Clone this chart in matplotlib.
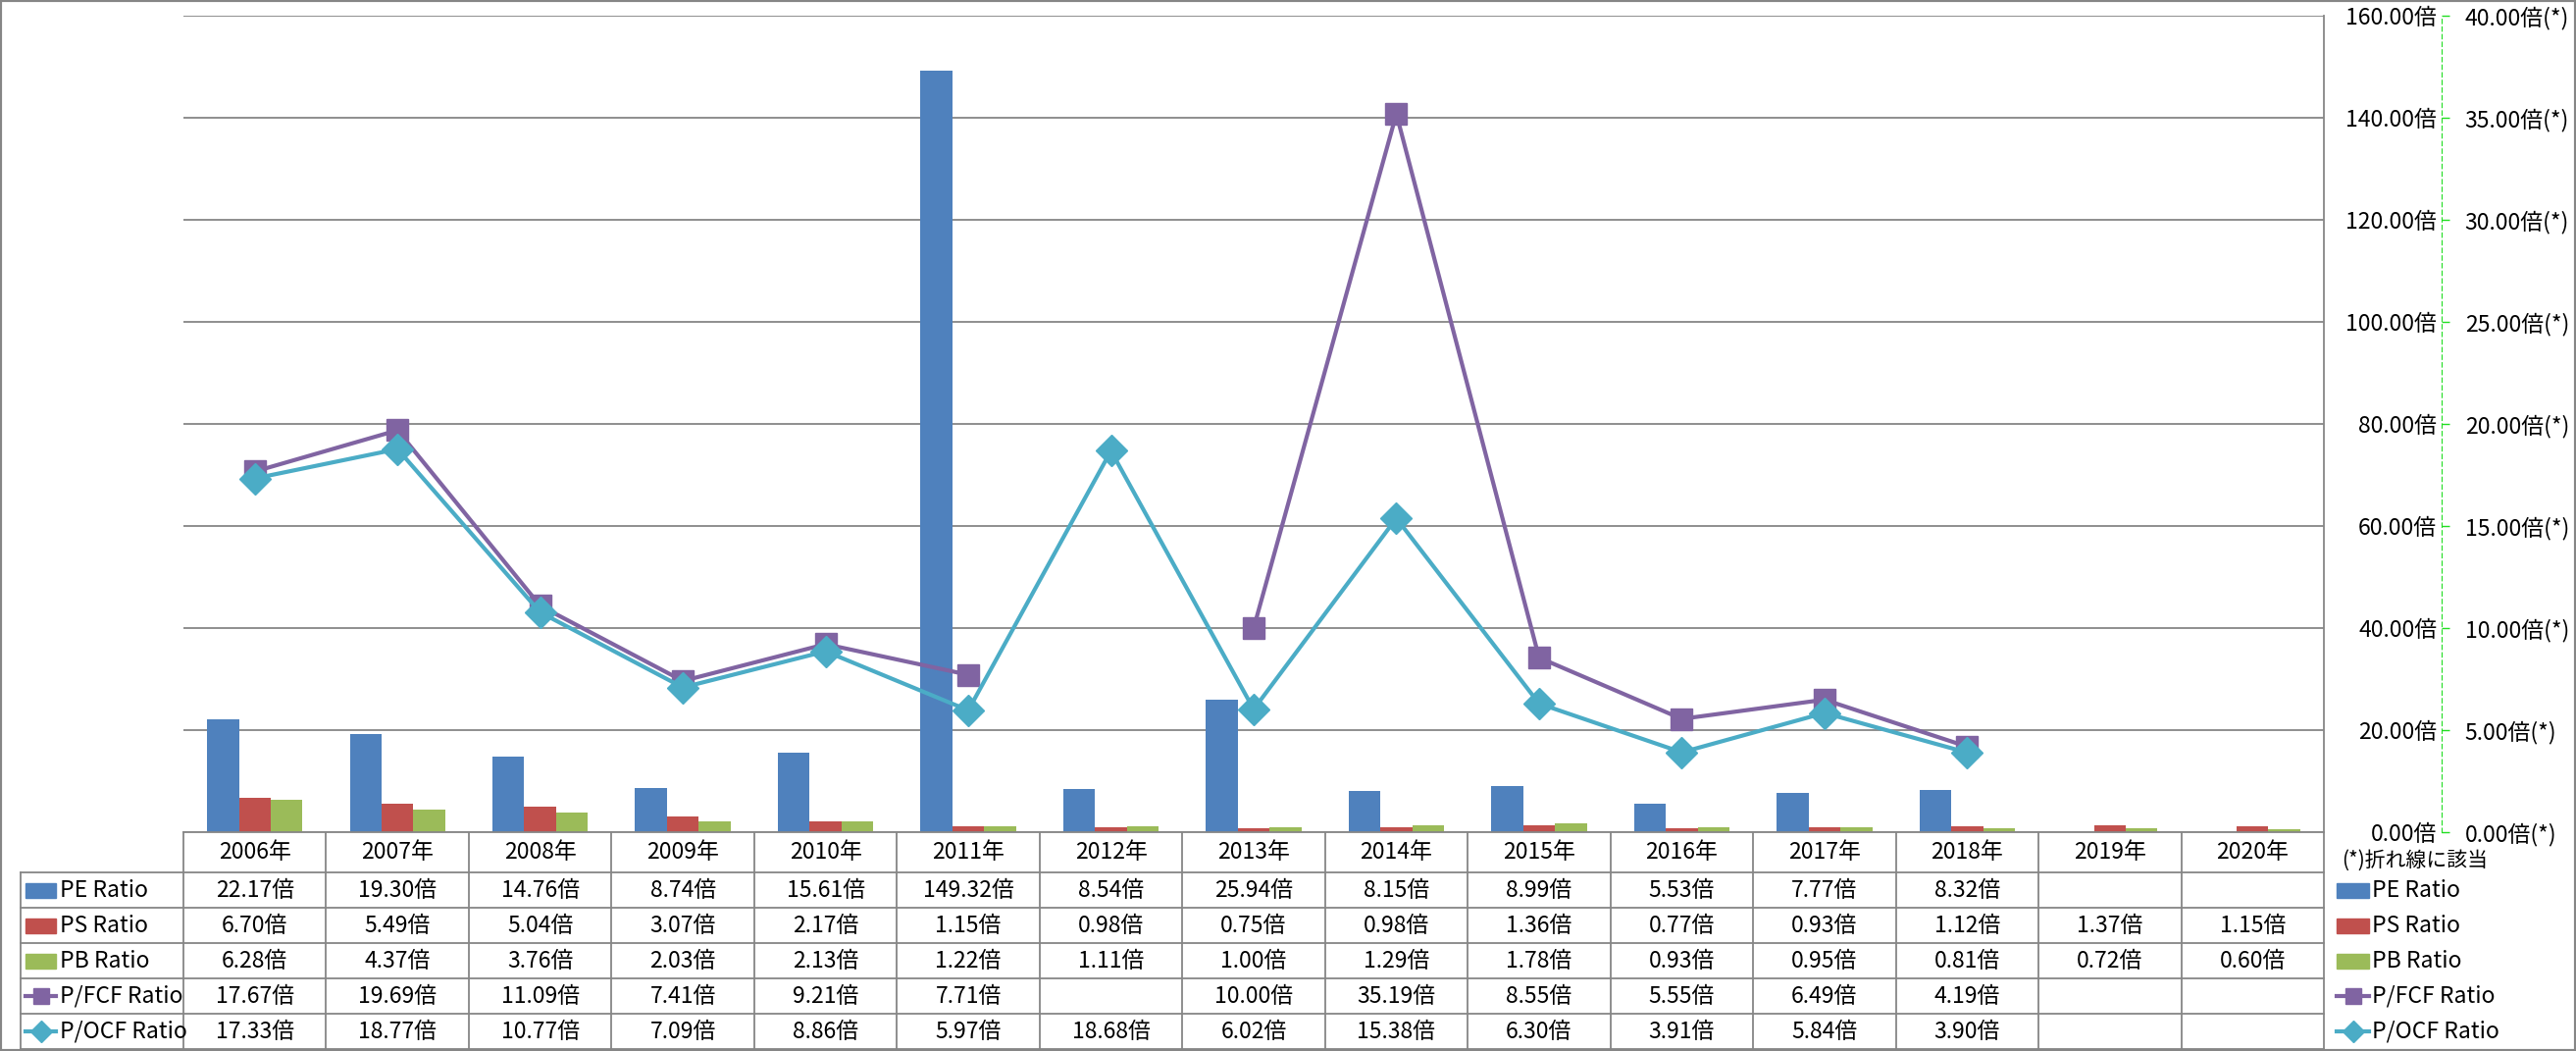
import numpy as np
import matplotlib
matplotlib.use("Agg")
import matplotlib.pyplot as plt
from matplotlib.patches import Rectangle
from matplotlib.lines import Line2D

plt.rcParams["font.family"] = ["Noto Sans CJK JP", "DejaVu Sans"]

nan = np.nan

years = [2006, 2007, 2008, 2009, 2010, 2011, 2012, 2013, 2014, 2015,
         2016, 2017, 2018, 2019, 2020]
pe_ratio = [22.17, 19.30, 14.76, 8.74, 15.61, 149.32, 8.54, 25.94, 8.15, 8.99,
            5.53, 7.77, 8.32, nan, nan]
ps_ratio = [6.70, 5.49, 5.04, 3.07, 2.17, 1.15, 0.98, 0.75, 0.98, 1.36,
            0.77, 0.93, 1.12, 1.37, 1.15]
pb_ratio = [6.28, 4.37, 3.76, 2.03, 2.13, 1.22, 1.11, 1.00, 1.29, 1.78,
            0.93, 0.95, 0.81, 0.72, 0.60]
pfcf_ratio = [17.67, 19.69, 11.09, 7.41, 9.21, 7.71, nan, 10.00, 35.19, 8.55,
              5.55, 6.49, 4.19, nan, nan]
pocf_ratio = [17.33, 18.77, 10.77, 7.09, 8.86, 5.97, 18.68, 6.02, 15.38, 6.30,
              3.91, 5.84, 3.90, nan, nan]

series_names = ["PE Ratio", "PS Ratio", "PB Ratio", "P/FCF Ratio", "P/OCF Ratio"]
BLUE, RED, GREEN = "#4F81BD", "#C0504D", "#9BBB59"
PURPLE, CYAN = "#8064A2", "#4BACC6"
GRID = "#868686"
AXGREEN = "#22DD22"

W, H = 2626, 1071
FS = 16.5


def fx(px):
    return px / W


def fy(py):
    return 1 - py / H


fig = plt.figure(figsize=(W / 100, H / 100), dpi=100)

# plot area in pixel coords of the reference
L, R, T, B = 187, 2369, 16, 848
ax = fig.add_axes([fx(L), fy(B), fx(R) - fx(L), fy(T) - fy(B)])
x = np.arange(len(years))
bw = 0.223
ax.bar(x - bw, pe_ratio, bw, color=BLUE, zorder=2)
ax.bar(x, ps_ratio, bw, color=RED, zorder=2)
ax.bar(x + bw, pb_ratio, bw, color=GREEN, zorder=2)
ax.set_xlim(-0.5, len(years) - 0.5)
ax.set_ylim(0, 160)
ax.yaxis.grid(True, color=GRID, lw=1.3, zorder=0)
ax.set_xticks([])
for s in ["top", "left", "bottom"]:
    ax.spines[s].set_visible(False)
ax.spines["right"].set_color(GRID)
ax.spines["right"].set_linewidth(1.3)

ax2 = ax.twinx()
ax2.plot(x, pfcf_ratio, color=PURPLE, lw=3, marker="s", ms=16,
         mfc=PURPLE, mec=PURPLE, zorder=3)
ax2.plot(x, pocf_ratio, color=CYAN, lw=3, marker="D", ms=16,
         mfc=CYAN, mec=CYAN, zorder=4)
ax2.set_ylim(0, 40)
ax2.set_yticks(range(0, 41, 5))
ax2.set_yticklabels([f"{v:.2f}倍(*)" for v in range(0, 41, 5)])
for s in ["top", "left", "bottom"]:
    ax2.spines[s].set_visible(False)
ax2.spines["right"].set_position(("outward", 86.4))
ax2.spines["right"].set_color(AXGREEN)
ax2.spines["right"].set_linestyle((0, (4, 3)))
ax2.tick_params(axis="y", direction="out", length=6, width=1,
                color=AXGREEN, pad=11, labelsize=FS)

# primary value labels sit at the right, left of the secondary axis
ax.yaxis.tick_right()
ax.set_yticks(range(0, 161, 20))
ax.set_yticklabels([f"{v:.2f}倍" for v in range(0, 161, 20)], ha="right")
ax.tick_params(axis="y", which="both", left=False, labelleft=False,
               right=False, labelright=True, length=0, pad=83, labelsize=FS)

# data table below the plot
tax = fig.add_axes([fx(L), fy(1070), fx(R) - fx(L), fy(B) - fy(1070)])
tax.set_xlim(-0.5, len(years) - 0.5)
tax.set_ylim(222, 0)
tax.axis("off")

px_unit = (R - L) / len(years)


def dx(px):
    return -0.5 + (px - L) / px_unit


rows = [0, 41, 77, 113, 149, 185, 221]
xl = dx(21)
lk = dict(color=GRID, lw=1.3, clip_on=False)
tax.plot([-0.5, len(years) - 0.5], [0, 0], **lk)
for yb in rows[1:]:
    tax.plot([xl, len(years) - 0.5], [yb, yb], **lk)
for k in range(len(years) + 1):
    tax.plot([k - 0.5, k - 0.5], [0, 221], **lk)
tax.plot([xl, xl], [41, 221], **lk)

for i, yr in enumerate(years):
    tax.text(i, 20.5, f"{yr}年", ha="center", va="center", fontsize=FS)

values = [pe_ratio, ps_ratio, pb_ratio, pfcf_ratio, pocf_ratio]
for r, vals in enumerate(values):
    yc = (rows[r + 1] + rows[r + 2]) / 2
    for i, v in enumerate(vals):
        if not np.isnan(v):
            tax.text(i, yc, f"{v:.2f}倍", ha="center", va="center", fontsize=FS)


def legend_key(x0, x1, yc, r):
    if r < 3:
        tax.add_patch(Rectangle((x0, yc - 7.5), x1 - x0, 15,
                                color=[BLUE, RED, GREEN][r], clip_on=False))
    else:
        c = PURPLE if r == 3 else CYAN
        m = "s" if r == 3 else "D"
        tax.add_line(Line2D([x0, x1], [yc, yc], color=c, lw=3, clip_on=False))
        tax.add_line(Line2D([(x0 + x1) / 2], [yc], color=c, marker=m, ms=11,
                            mec=c, clip_on=False))


for r, name in enumerate(series_names):
    yc = (rows[r + 1] + rows[r + 2]) / 2
    legend_key(dx(26), dx(57), yc, r)
    tax.text(dx(61), yc, name, ha="left", va="center", fontsize=FS)
    legend_key(dx(2382), dx(2415), yc, r)
    tax.text(dx(2418), yc, name, ha="left", va="center", fontsize=FS)

tax.text(dx(2387), 29, "(*)折れ線に該当", ha="left", va="center", fontsize=15)

fig.patches.append(Rectangle((0, 0), 1, 1, transform=fig.transFigure,
                             fill=False, edgecolor=GRID, lw=3))

fig.savefig("out.png", dpi=100)
